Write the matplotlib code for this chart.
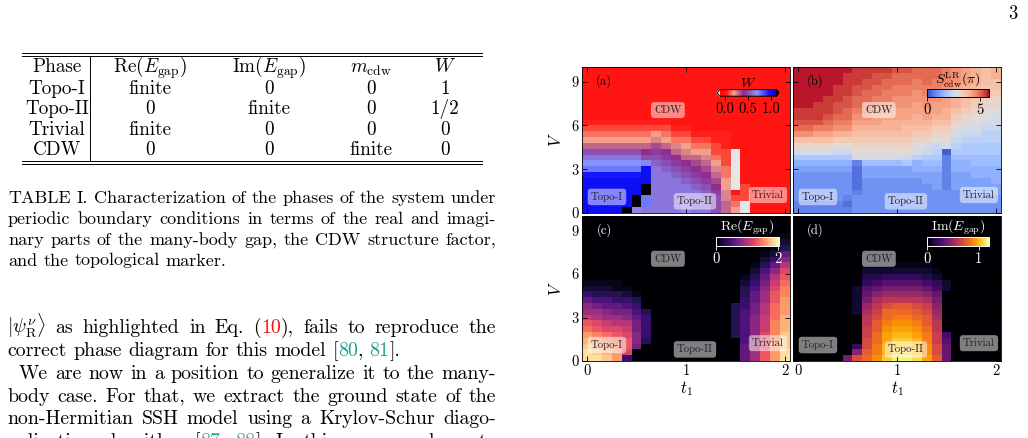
import numpy as np
import matplotlib
matplotlib.use("Agg")
import matplotlib.pyplot as plt
from matplotlib.colors import LinearSegmentedColormap, Normalize
from matplotlib.lines import Line2D

plt.rcParams['font.family'] = ['cmr10', 'DejaVu Serif']
plt.rcParams['mathtext.fontset'] = 'cm'
plt.rcParams['axes.formatter.use_mathtext'] = True
plt.rcParams['axes.unicode_minus'] = False

# ---------------------------------------------------------------- data
T1 = [0.0, 0.1, 0.2, 0.3, 0.4, 0.5, 0.6, 0.7, 0.8, 0.9, 1.0,
      1.1, 1.2, 1.3, 1.4, 1.5, 1.6, 1.7, 1.8, 1.9, 2.0]
V = [0.2, 0.6, 1.0, 1.4, 1.8, 2.2, 2.6, 3.0, 3.4, 3.8, 4.2, 4.6, 5.0,
     5.4, 5.8, 6.2, 6.6, 7.0, 7.4, 7.8, 8.2, 8.6, 9.0, 9.4, 9.8]
X_TICKS = [0, 1, 2]
Y_TICKS = [0, 3, 6, 9]
PHASE_LABELS = ['CDW', 'Topo-I', 'Topo-II', 'Trivial']
PANEL_TAGS = ['(a)', '(b)', '(c)', '(d)']

# each string = one t1 column, read from V=0 upward (base-36 levels)
# W: level*0.05, '-' below range, '#' above range
W_COLS = ["KKKKKKJFECA64321", "KKKKKKJFECA64321", "KKKKKKJFECA64321",
          "KKKKKKJFECA64321", "#KKKKKJFECA64321", "D##KKKJFECA64321",
          "CFF##KKKDA864321", "CCCCCCCCBA975421", "CCCCCCCBA9864321",
          "CCCCCCBA9865321", "DDCCCBA98654321", "CCCCBA98764321",
          "CCBBA987654321", "AAA98765432211", "66554433222111",
          "4320-------", "--222", "", "", "", ""]
# S_cdw^LR(pi): level*0.25
S_COLS = ["3344444568BDFIKLMMNNNNNNN", "3344444568BDFIKLMMNNNNNNN",
          "3344444568BDFHJLMMMNNNNNN", "3344444568BDFHJKLMMMNNNNN",
          "3344444568ACEGIJKLLMMMNNN", "3234444568ACEGIJKKLLMMMMN",
          "444322223BCDEFGHIJKKLLMMM", "444444557BCDEFGHIJJKKLLMM",
          "444444557BCDEFGHHIJJKKLLM", "444444557BCDEFGGHIIJJKKLM",
          "444444557BCDEFGGHHIIJJKKL", "444444558ACDEFFGHHIIJJKKL",
          "4444445669BCDEFGGHHIIJJKK", "4444455678ABDEFGHHIIJJKKK",
          "44445556789ACDEFGHHIIJJKK", "44443333331BCDEFGGHHIIJJJ",
          "444455566789ABCDEFGGHHIII", "4444555667889ABCDEFFGGHHH",
          "4445556677889ABCCDEEFFGGG", "44455566778899ABCCDDEEFFF",
          "44455666778899ABBCDDEFFGG"]
# Re(E_gap): level*0.1
RE_COLS = ["JJIHGEDB986421", "JIHGFDCA975321", "IHGFECB9865321",
           "GGFEDCA9764311", "4CDDCBA8754210", "0078877654310",
           "000344443", "", "", "", "", "", "", "", "",
           "0000333333", "6665555554433210", "999988887766543210",
           "DDCCCBBBAA9987653210", "GGGFFFFEEEDDCBA864210",
           "JJIIIHHHGGGFFEDCA863210"]
# Im(E_gap): level*0.05
IM_COLS = ["", "", "", "", "", "8", "E940000022222",
           "GFEEDDCCBA8764321", "IHHGGFFEDCB975321", "LKKJJIHGGECA86421",
           "NMLLKJIHGFCA86421", "NMLLKJIHGFCA86421", "MLKKJIHGFECA86421",
           "JIIHHGFFEDB975321", "FEEDDCCBA9875421", "77765000000022",
           "", "", "", "", ""]
W_STEP, S_STEP, RE_STEP, IM_STEP = 0.05, 0.25, 0.1, 0.05

TABLE_HEADER = ['Phase', r'${\rm Re}(E_{\rm gap})$', r'${\rm Im}(E_{\rm gap})$',
                r'$m_{\rm cdw}$', r'$W$']
TABLE_ROWS = [['Topo-I', 'finite', '0', '0', '1'],
              ['Topo-II', '0', 'finite', '0', '1/2'],
              ['Trivial', 'finite', '0', '0', '0'],
              ['CDW', '0', '0', 'finite', '0']]

RED = '#f01010'
TEAL = '#1f9e89'
CAPTION = [
    'TABLE I. Characterization of the phases of the system under'.split(),
    'periodic boundary conditions in terms of the real and imagi-'.split(),
    'nary parts of the many-body gap, the CDW structure factor,'.split(),
    'and the topological marker.'.split(),
]
BODY = [
    [r'$|\psi^{\nu}_{\rm R}\rangle$', 'as', 'highlighted', 'in', 'Eq.',
     [('(', 'k'), ('10', RED), ('),', 'k')], 'fails', 'to', 'reproduce', 'the'],
    'correct phase diagram for this model'.split() +
    [[('[', 'k'), ('80', TEAL), (',', 'k')], [('81', TEAL), ('].', 'k')]],
    'We are now in a position to generalize it to the many-'.split(),
    'body case. For that, we extract the ground state of the'.split(),
    'non-Hermitian SSH model using a Krylov-Schur diago-'.split(),
    'nalization algorithm'.split() +
    [[('[', 'k'), ('87', TEAL), (',', 'k')], [('88', TEAL), ('].', 'k')]] +
    'In this case, we have to'.split(),
]

# ---------------------------------------------------------------- figure
W_PX, H_PX = 1028, 438
fig = plt.figure(figsize=(W_PX / 100, H_PX / 100), dpi=100)
fig.patch.set_facecolor('white')
renderer = fig.canvas.get_renderer()


def fx(px):
    return px / W_PX


def fy(py):
    return 1 - py / H_PX


def text_width(s, fs):
    t = fig.text(0, 0, s, fontsize=fs)
    w = t.get_window_extent(renderer).width
    t.remove()
    return w


def draw_line(words, x0, x1, base, fs, justify=True):
    words = [[(w, 'k')] if isinstance(w, str) else w for w in words]
    widths = [[text_width(s, fs) for s, _ in w] for w in words]
    tot = sum(sum(ws) for ws in widths)
    if justify and len(words) > 1:
        gap = (x1 - x0 - tot) / (len(words) - 1)
    else:
        gap = fs * 100 / 72 * 0.333
    x = x0
    for w, ws in zip(words, widths):
        for (s, c), sw in zip(w, ws):
            fig.text(fx(x), fy(base), s, fontsize=fs, color=c,
                     ha='left', va='baseline')
            x += sw
        x += gap


# page number
fig.text(fx(1008), fy(19), '3', fontsize=13.5, ha='left', va='baseline')

# ---------------------------------------------------------------- table
TAB_X = [57, 150, 269, 371, 445]
TAB_Y = [72.5, 93.5, 114, 134.5, 155]
TAB_FS = 13.8
for x, s in zip(TAB_X, TABLE_HEADER):
    fig.text(fx(x), fy(TAB_Y[0]), s, fontsize=TAB_FS, ha='center', va='baseline')
for y, row in zip(TAB_Y[1:], TABLE_ROWS):
    for x, s in zip(TAB_X, row):
        fig.text(fx(x), fy(y), s, fontsize=TAB_FS, ha='center', va='baseline')
for y in (52.5, 55.5, 160.5, 163.5):
    fig.add_artist(Line2D([fx(22), fx(482)], [fy(y), fy(y)], color='k', lw=0.7))
fig.add_artist(Line2D([fx(90), fx(90)], [fy(55.5), fy(160.5)], color='k', lw=0.7))

# ---------------------------------------------------------------- text
CAP_Y = [203, 224, 245, 265.5]
for i, (words, y) in enumerate(zip(CAPTION, CAP_Y)):
    draw_line(words, 8, 496, y, 13.0, justify=(i < len(CAPTION) - 1))

BODY_Y = [333, 356, 379, 402, 424.5, 447.5]
BODY_X0 = [7, 7, 19, 7, 7, 7]
BODY_JUST = [True, False, True, True, True, True]
for words, y, x0, j in zip(BODY, BODY_Y, BODY_X0, BODY_JUST):
    draw_line(words, x0, 496, y, 14.3, justify=j)

# ---------------------------------------------------------------- heatmaps


def decode(cols, step):
    n = len(V)
    Z = np.zeros((n, len(cols)))
    for i, col in enumerate(cols):
        col = col.ljust(n, '0')
        for j, ch in enumerate(col):
            if ch == '-':
                Z[j, i] = -1.0
            elif ch == '#':
                Z[j, i] = 2.0
            else:
                Z[j, i] = int(ch, 36) * step
    return Z


def edges(c):
    c = np.asarray(c, float)
    mid = (c[1:] + c[:-1]) / 2
    return np.concatenate([[2 * c[0] - mid[0]], mid, [2 * c[-1] - mid[-1]]])


W_CMAP = LinearSegmentedColormap.from_list('wmap', [
    (0.0, '#ff0a0a'), (0.12, '#ff1a14'), (0.25, '#f4a08a'), (0.42, '#8e2a8e'),
    (0.66, '#8a96ff'), (0.88, '#1414ff'), (1.0, '#0000e0')])
W_CMAP.set_under('#e6e6e6')
W_CMAP.set_over('black')

panels = [
    dict(Z=decode(W_COLS, W_STEP), cmap=W_CMAP, norm=Normalize(-0.1, 1.1),
         box=(582, 67, 790, 213), cb_ticks=[0, 0.5, 1.0], cb_labels=['0.0', '0.5', '1.0'],
         cb_label=r'$W$', fg='k', ext='both', cb_rect=[0.649, 0.80, 0.298, 0.045]),
    dict(Z=decode(S_COLS, S_STEP), cmap=plt.get_cmap('coolwarm'), norm=Normalize(0, 5.85),
         box=(793, 67, 1001, 213), cb_ticks=[0, 5], cb_labels=['0', '5'],
         cb_label=r'$S^{\rm LR}_{\rm cdw}(\pi)$', fg='k', ext='neither',
         cb_rect=[0.644, 0.795, 0.298, 0.052]),
    dict(Z=decode(RE_COLS, RE_STEP), cmap=plt.get_cmap('magma'), norm=Normalize(0, 2.03),
         box=(582, 216, 790, 361), cb_ticks=[0, 2], cb_labels=['0', '2'],
         cb_label=r'${\rm Re}(E_{\rm gap})$', fg='white', ext='neither',
         cb_rect=[0.644, 0.795, 0.303, 0.058]),
    dict(Z=decode(IM_COLS, IM_STEP), cmap=plt.get_cmap('inferno'), norm=Normalize(0, 1.2),
         box=(793, 216, 1001, 361), cb_ticks=[0, 1], cb_labels=['0', '1'],
         cb_label=r'${\rm Im}(E_{\rm gap})$', fg='white', ext='neither',
         cb_rect=[0.644, 0.795, 0.298, 0.058]),
]

LABEL_POS = {'CDW': (0.413, 0.705), 'Topo-I': (0.12, 0.11),
             'Topo-II': (0.543, 0.08), 'Trivial': (0.894, 0.123)}

te, ve = edges(T1), edges(V)
for k, (p, tag) in enumerate(zip(panels, PANEL_TAGS)):
    l, t, r, b = p['box']
    ax = fig.add_axes([fx(l), fy(b), (r - l) / W_PX, (b - t) / H_PX])
    mesh = ax.pcolormesh(te, ve, p['Z'], cmap=p['cmap'], norm=p['norm'],
                         shading='flat', edgecolors='none')
    ax.set_xlim(te[0], te[-1])
    ax.set_ylim(ve[0], ve[-1])
    ax.set_xticks(X_TICKS)
    ax.set_yticks(Y_TICKS)
    ax.set_xticklabels([str(v) for v in X_TICKS])
    ax.set_yticklabels([str(v) for v in Y_TICKS])
    ax.tick_params(direction='in', top=True, right=True, length=3.5, width=0.6,
                   labelsize=10.5, pad=2.5,
                   labelbottom=(k >= 2), labelleft=(k % 2 == 0))
    for sp in ax.spines.values():
        sp.set_linewidth(0.6)
    if k % 2 == 0:
        ax.set_ylabel(r'$V$', fontsize=12, labelpad=5)
    if k >= 2:
        ax.set_xlabel(r'$t_1$', fontsize=12, labelpad=1)

    fg = p['fg']
    ax.text(0.106, 0.905, tag, transform=ax.transAxes, fontsize=9,
            color=fg, ha='center', va='center')
    for name in PHASE_LABELS:
        x, y = LABEL_POS[name]
        ax.text(x, y, name, transform=ax.transAxes, fontsize=7.8, color='#222222',
                ha='center', va='center',
                bbox=dict(boxstyle='round,pad=0.3', fc='white', ec='none', alpha=0.5))

    cax = ax.inset_axes(p['cb_rect'])
    cb = fig.colorbar(mesh, cax=cax, orientation='horizontal',
                      ticks=p['cb_ticks'], extend=p['ext'])
    cb.set_ticklabels(p['cb_labels'])
    cb.ax.tick_params(labelsize=10.5, length=3, width=0.6, direction='out',
                      colors=fg, pad=1.5)
    cb.outline.set_edgecolor(fg)
    cb.outline.set_linewidth(0.7)
    cax.set_title(p['cb_label'], fontsize=10, color=fg, pad=1.5)

fig.savefig('out.png', dpi=100, facecolor='white')
